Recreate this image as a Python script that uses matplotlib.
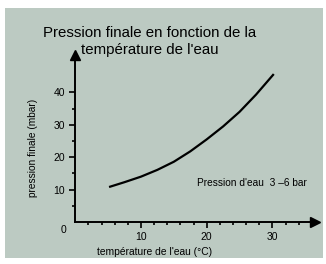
import matplotlib.pyplot as plt
from matplotlib.patches import Rectangle

plt.rcParams['font.family'] = ['Liberation Sans', 'DejaVu Sans']

# values
temp = [5.3, 7.5, 10, 12.5, 15, 17.5, 20, 22.5, 25, 27.5, 30.1]
pression = [10.9, 12.3, 14.0, 16.1, 18.6, 21.8, 25.5, 29.5, 34.0, 39.3, 45.4]
x_major = [10, 20, 30]
x_minor = [2, 4, 6, 8, 12, 14, 16, 18, 22, 24, 26, 28, 32, 34]
y_major = [10, 20, 30, 40]
y_minor = [5, 15, 25, 35]

bg = '#bccac2'
W, H = 326, 264

fig = plt.figure(figsize=(W / 100, H / 100), dpi=100)
fig.patch.set_facecolor('white')
fig.patches.append(Rectangle((5 / W, 6 / H), 318 / W, 250 / H,
                             transform=fig.transFigure, facecolor=bg,
                             edgecolor='none', zorder=-5))

# axes: x 0 at px 75.3, 6.57 px/unit ; y 0 at px 222, 3.24 px/unit
xmax, ymax = 36.5, 51.5
ax = fig.add_axes([75.3 / W, (H - 222) / H, xmax * 6.57 / W, ymax * 3.24 / H])
ax.set_zorder(2)
ax.set_facecolor('none')
ax.set_xlim(0, xmax)
ax.set_ylim(0, ymax)

for s in ['top', 'right']:
    ax.spines[s].set_visible(False)
for s in ['left', 'bottom']:
    ax.spines[s].set_linewidth(1.4)

ax.plot(1, 0, '>k', ms=7, transform=ax.get_yaxis_transform(), clip_on=False)
ax.plot(0, 1, '^k', ms=7, transform=ax.get_xaxis_transform(), clip_on=False)

ax.set_xticks(x_major)
ax.set_xticks(x_minor, minor=True)
ax.set_yticks(y_major)
ax.set_yticks(y_minor, minor=True)
ax.tick_params(which='major', length=4.5, width=1.2, labelsize=7.5, pad=3)
ax.tick_params(which='minor', length=2, width=1.2)
ax.text(-1.3, -0.8, '0', ha='right', va='top', fontsize=7.5)

ax.plot(temp, pression, color='black', lw=1.6)

ax.text(18.5, 12.0, "Pression d'eau  3 \u20136 bar", ha='left', va='center',
        fontsize=7.3)

fig.text(155 / W, 1 - 252 / H, "température de l'eau (°C)", ha='center',
         va='center', fontsize=7.4)
fig.text(33 / W, 1 - 148 / H, 'pression finale (mbar)', ha='center',
         va='center', rotation=90, fontsize=7.3)
fig.text(150 / W, 1 - 33 / H, 'Pression finale en fonction de la',
         ha='center', va='center', fontsize=10.8)
fig.text(150 / W, 1 - 50 / H, "température de l'eau", ha='center',
         va='center', fontsize=10.8)

fig.savefig('out.png', dpi=100, facecolor='white')
